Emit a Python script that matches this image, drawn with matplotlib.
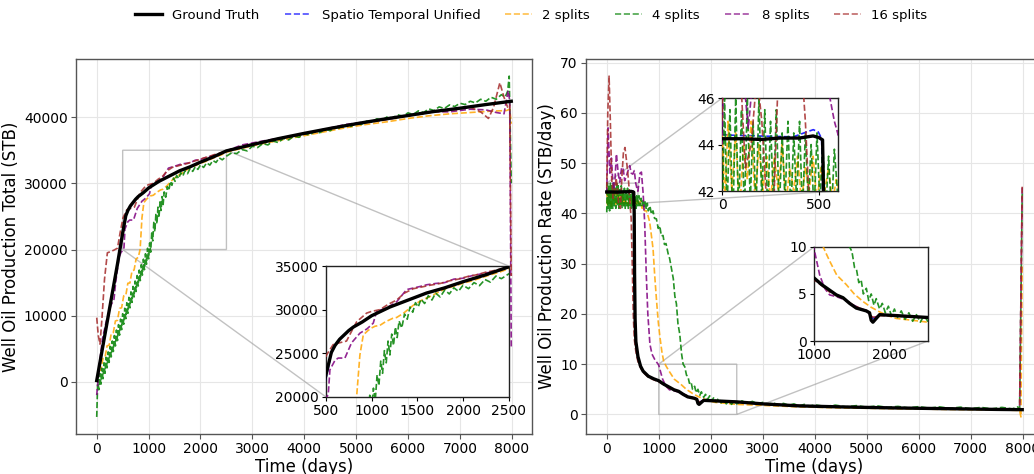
import numpy as np
import matplotlib
matplotlib.use("Agg")
import matplotlib.pyplot as plt
from matplotlib.lines import Line2D

# ---------------- cumulative production (STB) ----------------
gt_tot_days = [0, 100, 200, 300, 400, 500, 530, 560, 600, 650, 700, 750, 800, 900, 1000, 1100, 1200,
               1400, 1600, 1800, 2000, 2250, 2500, 3000, 3500, 4000, 4500, 5000, 5500, 6000, 6500,
               7000, 7500, 7990]
gt_tot = [200, 4600, 9000, 13400, 17800, 22500, 23800, 25100, 25900, 26600, 27100, 27600, 28000,
          28600, 29300, 29800, 30300, 31100, 31900, 32500, 33200, 34000, 34900, 35850, 36750, 37550,
          38300, 39000, 39650, 40250, 40850, 41350, 41900, 42400]
blue_tot = [200, 4500, 8900, 13300, 17700, 22100, 23500, 25000, 25900, 26600, 27100, 27600, 28000,
            28600, 29300, 29800, 30300, 31100, 31900, 32500, 33200, 34000, 34900, 35850, 36750, 37550,
            38300, 39000, 39650, 40250, 40850, 41350, 41900, 42400]

s16_tot_days = [0, 30, 63, 100, 150, 205, 270, 330, 400, 450, 507, 580, 650, 726, 780, 836, 945, 1000,
                1091, 1180, 1274, 1360, 1456, 1550, 1640, 1750, 1850, 1950, 2050, 2150, 2250, 2350,
                2500, 2800, 3100, 3500, 3900, 4300, 4700, 5100, 5500, 5900, 6300, 6600, 6900, 7200,
                7400, 7550, 7650, 7770, 7850, 7920, 7960, 7990]
s16_tot = [9700, 7000, 5700, 9500, 15500, 19500, 19700, 19900, 20200, 22500, 24800, 26000, 26200,
           26400, 27500, 28600, 29600, 29800, 30000, 30600, 31100, 31900, 32400, 32600, 32800, 33000,
           33300, 33500, 33800, 34000, 34300, 34500, 34900, 35600, 36100, 36800, 37300, 38000, 38600,
           39100, 39500, 40100, 40500, 41000, 41100, 41500, 40800, 39800, 41500, 45200, 43000, 41500,
           41800, 16000]

s8_tot_days = [0, 50, 110, 180, 270, 333, 365, 430, 470, 500, 526, 544, 600, 635, 708, 781, 872, 950,
               1018, 1055, 1164, 1274, 1383, 1529, 1602, 1700, 1800, 1900, 2000, 2100, 2200, 2300,
               2400, 2500, 2800, 3200, 3600, 4000, 4400, 4800, 5200, 5600, 6000, 6400, 6800, 7200,
               7500, 7700, 7850, 7930, 7960, 7990]
s8_tot = [-2000, 2500, 6500, 9000, 11500, 12500, 15000, 18800, 19600, 19800, 20300, 23100, 24200,
          24450, 24450, 26200, 27300, 27800, 28450, 29800, 30200, 30900, 32300, 32650, 32850, 33000,
          33100, 33500, 33600, 33900, 34100, 34300, 34500, 34900, 35800, 36400, 36900, 37500, 38200,
          38900, 39300, 39700, 40200, 40800, 40800, 41200, 41100, 40700, 40500, 44000, 42500, 5300]

s2_tot_days = [0, 40, 80, 120, 160, 200, 240, 280, 320, 360, 400, 440, 480, 520, 560, 600, 640, 680,
               720, 760, 800, 836, 872, 909, 960, 1000, 1038, 1091, 1150, 1230, 1274, 1350, 1456,
               1551, 1639, 1730, 1821, 1910, 2007, 2100, 2186, 2300, 2400, 2500, 2800, 3200, 3600,
               4000, 4400, 4800, 5200, 5600, 6000, 6400, 6800, 7200, 7600, 7900, 7960, 7990]
s2_tot = [300, 1650, 1800, 3550, 3700, 5450, 5550, 7300, 7450, 9200, 9300, 11100, 11200, 13000, 13050,
          14900, 14950, 16750, 16900, 18600, 18800, 20000, 24800, 27100, 27600, 27900, 28100, 28200,
          28600, 29000, 29100, 29600, 30500, 31100, 31500, 32000, 32450, 32700, 33050, 33300, 33600,
          34000, 34300, 34700, 35300, 36000, 36600, 37200, 37800, 38400, 38900, 39300, 39800, 40200,
          40500, 40700, 40900, 41000, 41200, 39000]

s4_tot_days = [0, 20, 40, 60, 80, 100, 120, 140, 160, 180, 200, 220, 240, 260, 280, 300, 320, 340, 360,
               380, 400, 420, 440, 460, 480, 500, 520, 540, 560, 580, 600, 620, 640, 660, 680, 700,
               720, 740, 760, 780, 800, 820, 840, 860, 880, 900, 920, 940, 960, 980, 1000, 1020, 1040,
               1060, 1080, 1100, 1120, 1140, 1160, 1180, 1200, 1220, 1240, 1260, 1280, 1300, 1330,
               1360, 1390, 1420, 1450, 1480, 1510, 1540, 1580, 1620, 1660, 1700, 1750, 1800, 1850,
               1900, 1950, 2000, 2060, 2120, 2180, 2240, 2300, 2360, 2420, 2500, 2600, 2700, 2800,
               2900, 3000, 3100, 3200, 3300, 3400, 3500, 3600, 3700, 3800, 3900, 4000, 4100, 4200,
               4300, 4400, 4500, 4600, 4700, 4800, 4900, 5000, 5100, 5200, 5300, 5400, 5500, 5600,
               5700, 5800, 5900, 6000, 6100, 6200, 6300, 6400, 6500, 6600, 6700, 6800, 6900, 7000,
               7100, 7200, 7300, 7400, 7500, 7600, 7700, 7800, 7870, 7920, 7950, 7990]
s4_tot = [-5300, 410, -1180, 1240, -350, 2060, 470, 2880, 1300, 3710, 2120, 4530, 2940, 5360, 3770,
          6180, 4590, 7000, 5420, 7830, 6240, 8650, 7060, 9480, 7890, 10300, 8710, 11120, 9540, 11950,
          10360, 12770, 11180, 13600, 12010, 14420, 12830, 15240, 13660, 16070, 14480, 16890, 15300,
          17720, 16130, 18540, 16950, 19360, 17780, 20190, 18600, 21000, 19600, 22500, 21300, 24100,
          22700, 25300, 23900, 26400, 24800, 27200, 25900, 28000, 26800, 28700, 27900, 29500, 28900,
          30300, 29700, 30800, 30300, 31200, 30700, 31600, 31100, 31900, 31450, 32250, 31800, 32500,
          32100, 32800, 32400, 33100, 32750, 33450, 33150, 33850, 33550, 34100, 34600, 34500, 35100,
          34900, 35600, 35400, 36000, 35800, 36400, 36150, 36800, 36550, 37150, 36950, 37500, 37300,
          37850, 37650, 38200, 37950, 38500, 38300, 38800, 38600, 39100, 38900, 39400, 39250, 39750,
          39550, 40050, 39850, 40350, 40150, 40650, 40400, 40950, 40700, 41250, 41000, 41550, 41300,
          41850, 41600, 42100, 41900, 42400, 42150, 42700, 42400, 43000, 42700, 43400, 43000, 43900,
          46200, 30000]

# ---------------- production rate (STB/day) ----------------
gt_rate_days = [0, 100, 200, 300, 400, 470, 500, 519, 528, 535, 545, 560, 600, 650, 700, 800, 900,
                1000, 1100, 1206, 1294, 1382, 1469, 1557, 1689, 1732, 1754, 1776, 1820, 1864, 2083,
                2500, 3000, 3700, 4500, 5500, 6500, 7500, 7990]
gt_rate = [44.25, 44.25, 44.22, 44.28, 44.28, 44.37, 44.3, 44.2, 40, 28, 19, 14.5, 11.5, 9.6, 8.6,
           7.6, 7.1, 6.7, 6.0, 5.4, 4.9, 4.6, 4.0, 3.5, 3.2, 3.0, 2.2, 2.0, 2.4, 2.8, 2.7, 2.5, 2.1,
           1.7, 1.5, 1.3, 1.15, 1.0, 0.95]

blue_rate_days = [0, 57, 229, 367, 436, 471, 497, 514, 524, 532, 545, 560, 600, 650, 700, 800, 900,
                  1000, 1100, 1206, 1294, 1382, 1469, 1557, 1689, 1732, 1754, 1776, 1820, 1864, 2083,
                  2500, 3000, 3700, 4500, 5500, 6500, 7500, 7990]
blue_rate = [44.43, 44.4, 44.36, 44.33, 44.54, 44.64, 44.54, 44.26, 40, 28, 19, 14.5, 11.5, 9.6, 8.6,
             7.6, 7.1, 6.7, 6.0, 5.4, 4.9, 4.6, 4.0, 3.5, 3.2, 3.0, 2.6, 2.4, 2.6, 2.8, 2.7, 2.5, 2.1,
             1.7, 1.5, 1.3, 1.15, 1.0, 0.95]

s16_rate_days = [0, 20, 45, 70, 95, 120, 150, 180, 205, 230, 265, 290, 320, 350, 380, 410, 430, 450,
                 470, 490, 510, 530, 560, 600, 650, 700, 800, 900, 1000, 1100, 1206, 1300, 1400,
                 1500, 1600, 1700, 1760, 1800, 1864, 2083, 2500, 3000, 3700, 4500, 5500, 6500, 7500,
                 7940, 7990]
s16_rate = [45, 60, 67.3, 58, 47, 43, 44, 47, 45, 41.5, 41, 47, 52, 53.1, 50.5, 47.5, 45, 41.5, 39,
            30, 20, 15, 12.5, 10.5, 9.3, 8.4, 7.4, 6.9, 6.5, 5.9, 5.2, 4.8, 4.5, 3.9, 3.5, 3.2, 2.6,
            2.5, 2.7, 2.65, 2.45, 2.1, 1.75, 1.5, 1.3, 1.15, 1.05, 1.0, 45.5]

s8_rate_days = [0, 26, 60, 90, 115, 135, 160, 186, 220, 250, 285, 314, 345, 380, 410, 442, 470, 500,
                530, 557, 580, 600, 640, 667, 700, 730, 760, 790, 830, 870, 920, 1000, 1075, 1140,
                1206, 1300, 1400, 1500, 1600, 1700, 1760, 1800, 1864, 2083, 2500, 3000, 3700, 4500,
                5500, 6500, 7500, 7940, 7990]
s8_rate = [44, 57, 48, 51, 46.5, 44.7, 47, 51.8, 48, 46.2, 49, 49.1, 46.5, 47.5, 48.5, 49.5, 48, 47.8,
           48.5, 46, 45, 44.4, 48, 48.2, 44, 38, 28, 20, 14, 12, 11, 9.8, 7.0, 5.6, 4.9, 4.7, 4.4,
           3.9, 3.5, 3.2, 2.5, 2.5, 2.75, 2.7, 2.5, 2.1, 1.75, 1.5, 1.3, 1.15, 1.05, 1.0, 45.5]

s2_rate_days = [0, 15, 30, 50, 70, 90, 110, 130, 150, 170, 190, 210, 230, 250, 270, 290, 310, 330, 350,
                370, 390, 410, 430, 450, 470, 490, 510, 530, 550, 570, 590, 620, 650, 680, 700, 730,
                760, 795, 827, 860, 891, 920, 955, 990, 1019, 1060, 1096, 1148, 1206, 1300, 1425,
                1530, 1645, 1750, 1864, 1970, 2083, 2300, 2500, 3000, 3700, 4500, 5500, 6500, 7500,
                7940, 7965, 7990]
s2_rate = [44.5, 41.5, 45, 42, 44.5, 41, 44, 42.5, 45, 41.5, 44, 42, 43.5, 41.5, 43.5, 42, 44, 41.5, 43,
           42, 43.5, 41.5, 43, 42, 43.5, 41.5, 43, 42, 43, 41.5, 42.5, 41.5, 42.5, 41, 41.5, 40.5,
           40.5, 39.5, 38.2, 35.5, 32.9, 28, 23, 18.5, 15.7, 12.5, 10.5, 9.5, 8.5, 7.0, 6.0, 5.0,
           4.2, 3.6, 3.1, 2.7, 2.4, 2.2, 2.0, 1.8, 1.5, 1.3, 1.15, 1.0, 0.9, 0.8, -0.5, 30]

s4_rate_days = [0, 12, 25, 40, 55, 70, 85, 100, 115, 130, 145, 160, 175, 190, 205, 220, 235, 250, 265,
                280, 295, 310, 325, 340, 355, 370, 385, 400, 415, 430, 445, 460, 475, 490, 505, 520,
                535, 550, 565, 580, 600, 620, 640, 660, 680, 700, 720, 740, 760, 780, 800, 830, 860,
                890, 920, 955, 990, 1020, 1050, 1083, 1110, 1140, 1180, 1210, 1244, 1280, 1310, 1340,
                1370, 1404, 1440, 1469, 1500, 1534, 1560, 1590, 1621, 1650, 1690, 1720, 1754, 1790,
                1820, 1864, 1900, 1940, 1980, 2020, 2060, 2100, 2150, 2200, 2250, 2300, 2350, 2400,
                2450, 2500, 2600, 2700, 2800, 2900, 3000, 3100, 3200, 3300, 3400, 3500, 3600, 3700,
                3800, 3900, 4000, 4200, 4400, 4600, 4800, 5000, 5200, 5400, 5600, 5800, 6000, 6200,
                6400, 6600, 6800, 7000, 7200, 7400, 7600, 7800, 7900, 7940, 7990]
s4_rate = [40.2, 46, 41, 45.5, 40.5, 46, 41, 45.5, 41, 46, 41.5, 45, 41, 46, 41.5, 45.5, 41, 45, 41.5,
           45.5, 41, 44.5, 41.5, 45, 41, 44.5, 41.5, 45, 41, 44.5, 41.5, 44, 41, 44.5, 41.5, 44, 41,
           43.5, 41, 43.8, 41.5, 43.5, 41.5, 43, 41.5, 42.8, 41, 42.5, 40.8, 42, 40.5, 41.5, 39.8,
           40.5, 39, 38.9, 37, 37.5, 35.5, 35.6, 33.8, 34, 32, 31, 29, 27, 23.5, 22, 18, 16, 12, 10,
           9.5, 7.8, 7.6, 6.2, 6.5, 5.0, 5.6, 4.3, 5.0, 3.8, 4.5, 3.4, 4.0, 3.0, 3.7, 2.7, 3.4, 2.5,
           3.2, 2.3, 3.0, 2.1, 2.8, 2.0, 2.7, 2.1, 2.7, 2.2, 2.6, 2.1, 2.4, 2.0, 2.3, 1.9, 2.2, 1.8,
           2.1, 1.7, 2.0, 1.65, 1.9, 1.6, 1.85, 1.5, 1.75, 1.45, 1.7, 1.4, 1.6, 1.3, 1.55, 1.25, 1.5,
           1.2, 1.45, 1.15, 1.4, 1.1, 1.4, 1.1, 1.5, 1.2, 44]

labels = ["Ground Truth", "Spatio Temporal Unified", "2 splits", "4 splits", "8 splits", "16 splits"]
colors = ["black", "blue", "orange", "green", "purple", "brown"]

tot_series = [(gt_tot_days, gt_tot), (gt_tot_days, blue_tot), (s2_tot_days, s2_tot),
              (s4_tot_days, s4_tot), (s8_tot_days, s8_tot), (s16_tot_days, s16_tot)]
rate_series = [(gt_rate_days, gt_rate), (blue_rate_days, blue_rate), (s2_rate_days, s2_rate),
               (s4_rate_days, s4_rate), (s8_rate_days, s8_rate), (s16_rate_days, s16_rate)]


def draw(ax, series):
    # predictions first, ground truth on top
    for i in [1, 2, 3, 4, 5, 0]:
        d, v = series[i]
        if i == 0:
            ax.plot(d, v, color="black", lw=2.4, zorder=10)
        else:
            ax.plot(d, v, color=colors[i], lw=1.2, ls="--", alpha=0.85, zorder=3 + i)


def style_main(ax):
    ax.grid(True, color="#e6e6e6", lw=0.8)
    ax.set_axisbelow(True)
    for s in ax.spines.values():
        s.set_color("#555555")
        s.set_linewidth(1.0)
    ax.tick_params(labelsize=10, color="#555555", length=3.5, pad=2.5)


def style_inset(ax):
    for s in ax.spines.values():
        s.set_color("#222222")
        s.set_linewidth(1.0)
    ax.tick_params(labelsize=10, length=3, pad=2)


def zoom_box(ax, axins, show):
    ind = ax.indicate_inset_zoom(axins, edgecolor="#999999", alpha=0.6, lw=1)
    for c, vis in zip(ind.connectors, show):
        c.set_visible(vis)


fig = plt.figure(figsize=(10.34, 4.74), dpi=100)
ax1 = fig.add_axes([0.0735, 0.0844, 0.441, 0.791])
ax2 = fig.add_axes([0.5667, 0.0844, 0.442, 0.791])

draw(ax1, tot_series)
style_main(ax1)
ax1.set_xticks(range(0, 8001, 1000))
ax1.set_xlabel("Time (days)", fontsize=12, labelpad=1)
ax1.set_ylabel("Well Oil Production Total (STB)", fontsize=12, labelpad=3)

draw(ax2, rate_series)
style_main(ax2)
ax2.set_xticks(range(0, 8001, 1000))
ax2.set_xlabel("Time (days)", fontsize=12, labelpad=1)
ax2.set_ylabel("Well Oil Production Rate (STB/day)", fontsize=12, labelpad=3)

# inset on cumulative plot
in1 = ax1.inset_axes([0.548, 0.099, 0.401, 0.349])
draw(in1, tot_series)
in1.set_xlim(500, 2500)
in1.set_ylim(20000, 35000)
in1.set_xticks([500, 1000, 1500, 2000, 2500])
in1.set_yticks([20000, 25000, 30000, 35000])
style_inset(in1)
zoom_box(ax1, in1, [True, False, False, True])

# insets on rate plot
in2 = ax2.inset_axes([0.298, 0.648, 0.254, 0.248])
draw(in2, rate_series)
in2.set_xlim(0, 600)
in2.set_ylim(42, 46)
in2.set_xticks([0, 500])
in2.set_yticks([42, 44, 46])
style_inset(in2)
zoom_box(ax2, in2, [False, True, True, False])

in3 = ax2.inset_axes([0.499, 0.248, 0.249, 0.251])
draw(in3, rate_series)
in3.set_xlim(1000, 2500)
in3.set_ylim(0, 10)
in3.set_xticks([1000, 2000])
in3.set_yticks([0, 5, 10])
style_inset(in3)
zoom_box(ax2, in3, [False, True, True, False])

handles = [Line2D([], [], color="black", lw=2.4)]
handles += [Line2D([], [], color=c, lw=1.2, ls="--", alpha=0.7) for c in colors[1:]]
fig.legend(handles, labels, loc="center", bbox_to_anchor=(0.514, 0.968), ncol=6,
           frameon=False, fontsize=9.5, columnspacing=1.9, handlelength=2)

fig.savefig("out.png", dpi=100)
